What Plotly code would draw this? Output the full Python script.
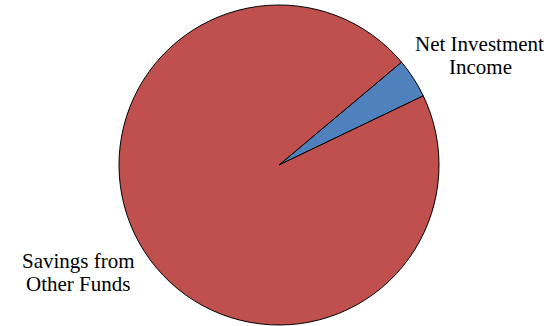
import plotly.graph_objects as go

labels = ["Net Investment Income", "Savings from Other Funds"]
values = [4.0, 96.0]
colors = ["#4F81BD", "#C0504D"]

# Outside label lines, drawn one line at a time for tight line spacing
label_lines = [
    ("Net Investment", 479.5, 44),
    ("Income", 480, 67),
    ("Savings from", 78, 261),
    ("Other Funds", 77.5, 284),
]

W, H = 556, 326
cx, cy, r = 279, 165, 160

fig = go.Figure(go.Pie(
    labels=labels,
    values=values,
    sort=False,
    direction="clockwise",
    rotation=50,
    marker=dict(colors=colors, line=dict(color="black", width=1)),
    textinfo="none",
    hoverinfo="label+percent",
    showlegend=False,
    domain=dict(x=[(cx - r) / W, (cx + r) / W], y=[1 - (cy + r) / H, 1 - (cy - r) / H]),
))

font = dict(family="Liberation Serif, Times New Roman, serif", size=21, color="black")
for text, px, py in label_lines:
    fig.add_annotation(text=text, x=px / W, y=1 - py / H, xref="paper", yref="paper",
                       xanchor="center", yanchor="middle", showarrow=False, font=font)

fig.update_layout(width=W, height=H, margin=dict(l=0, r=0, t=0, b=0),
                  paper_bgcolor="white", plot_bgcolor="white")
fig.write_html("out.html")
